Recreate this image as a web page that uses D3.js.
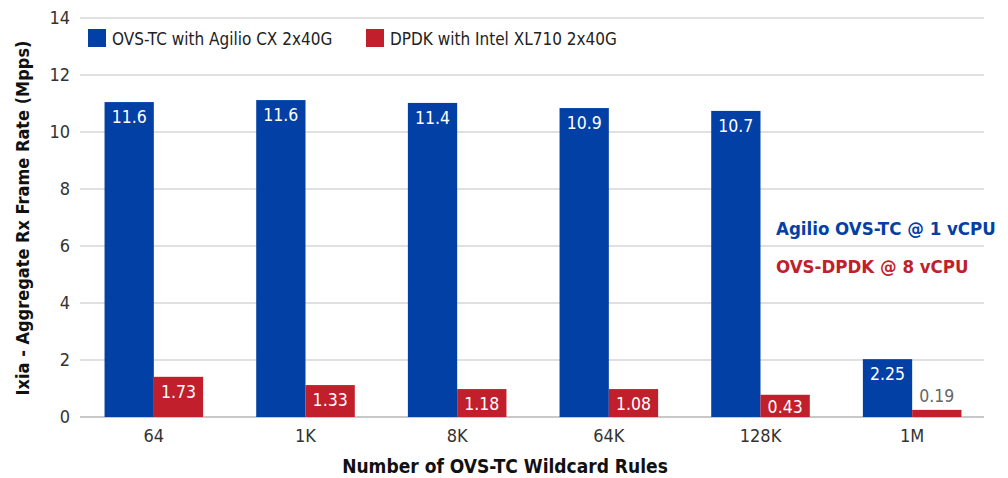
<!DOCTYPE html>
<html><head><meta charset="utf-8">
<script src="https://cdn.jsdelivr.net/npm/d3@7"></script>
<style>
body{margin:0;background:#fff;}
text{font-family:"DejaVu Sans Condensed","Liberation Sans Narrow",sans-serif;}
</style></head><body>
<svg id="chart" width="1008" height="478"></svg>
<script>
const categories = ["64","1K","8K","64K","128K","1M"];
const seriesNames = ["OVS-TC with Agilio CX 2x40G","DPDK with Intel XL710 2x40G"];
const agilioValues = [11.05, 11.12, 11.02, 10.84, 10.74, 2.03];
const dpdkValues = [1.41, 1.12, 0.98, 0.98, 0.78, 0.25];
const agilioLabels = ["11.6","11.6","11.4","10.9","10.7","2.25"];
const dpdkLabels = ["1.73","1.33","1.18","1.08","0.43","0.19"];
const yTicks = [0,2,4,6,8,10,12,14];
const colors = ["#0340a6","#c01f2b"];
const FONT = "DejaVu Sans Condensed, Liberation Sans Narrow, sans-serif";

const svg = d3.select("#chart");
const pLeft = 80, pRight = 984, pTop = 18, pBottom = 417;
const x0 = d3.scaleBand().domain(categories).range([78, 988]).paddingInner(0.35).paddingOuter(0.175);
const x1 = d3.scaleBand().domain([0,1]).range([0, x0.bandwidth()]);
const y = d3.scaleLinear().domain([0,14]).range([pBottom, pTop]);

// gridlines
svg.append("g").selectAll("line").data(yTicks).join("line")
  .attr("x1", pLeft).attr("x2", pRight)
  .attr("y1", d=>y(d)).attr("y2", d=>y(d))
  .attr("stroke", d=> d===0 ? "#c8c8c8" : "#d6d6d6").attr("stroke-width", d=>d===0?2:1.5);

// y axis
const yAxis = d3.axisLeft(y).tickValues(yTicks).tickSize(0).tickPadding(10);
const gy = svg.append("g").attr("transform", `translate(${pLeft},0)`).call(yAxis);
gy.select(".domain").remove();
gy.selectAll("text").attr("font-size", 18).attr("fill", "#333").attr("font-family", FONT);

// x axis
const xAxis = d3.axisBottom(x0).tickSize(0).tickPadding(12);
const gx = svg.append("g").attr("transform", `translate(0,${pBottom})`).call(xAxis);
gx.select(".domain").remove();
gx.selectAll("text").attr("font-size", 18).attr("fill", "#333").attr("font-family", FONT);

const data = categories.map((c,i)=>({c, vals:[
  {s:0, v:agilioValues[i], l:agilioLabels[i]},
  {s:1, v:dpdkValues[i], l:dpdkLabels[i]}]}));

const groups = svg.append("g").selectAll("g").data(data).join("g")
  .attr("transform", d=>`translate(${x0(d.c)},0)`);
groups.selectAll("rect").data(d=>d.vals).join("rect")
  .attr("x", d=>x1(d.s)).attr("width", x1.bandwidth())
  .attr("y", d=>y(d.v)).attr("height", d=>y(0)-y(d.v))
  .attr("fill", d=>colors[d.s]);
groups.selectAll("text.val").data(d=>d.vals).join("text").attr("class","val")
  .attr("x", d=>x1(d.s)+x1.bandwidth()/2)
  .attr("y", d=> (y(0)-y(d.v) < 12) ? y(d.v)-8 : Math.min(y(d.v)+21, y(0)-4))
  .attr("text-anchor","middle").attr("font-size",17.5)
  .attr("fill", d=> (y(0)-y(d.v) < 12) ? "#666" : "#fff")
  .text(d=>d.l);

// legend
const legX = [88, 366];
const lg = svg.append("g").selectAll("g").data(seriesNames).join("g")
  .attr("transform",(d,i)=>`translate(${legX[i]},29)`);
lg.append("rect").attr("width",18).attr("height",18).attr("fill",(d,i)=>colors[i]);
lg.append("text").attr("x",24).attr("y",15.5).attr("font-size",17).attr("fill","#222").text(d=>d);

// annotations
svg.append("text").attr("x",776).attr("y",235).attr("font-size",18.5).attr("font-weight","bold")
  .attr("fill",colors[0]).text("Agilio OVS-TC @ 1 vCPU");
svg.append("text").attr("x",776).attr("y",273).attr("font-size",18.5).attr("font-weight","bold")
  .attr("fill",colors[1]).text("OVS-DPDK @ 8 vCPU");

// axis titles
svg.append("text").attr("x",505).attr("y",473).attr("text-anchor","middle")
  .attr("font-size",19).attr("font-weight","bold").attr("fill","#111")
  .text("Number of OVS-TC Wildcard Rules");
svg.append("text").attr("transform","translate(29,218) rotate(-90)").attr("text-anchor","middle")
  .attr("font-size",18).attr("font-weight","bold").attr("fill","#111")
  .text("Ixia - Aggregate Rx Frame Rate (Mpps)");
</script></body></html>
